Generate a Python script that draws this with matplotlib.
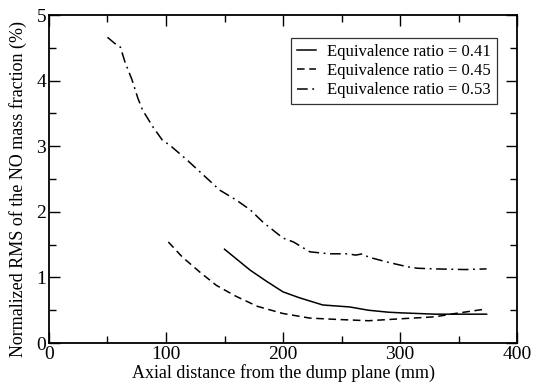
import matplotlib
matplotlib.use("Agg")
import matplotlib.pyplot as plt
from matplotlib.ticker import MultipleLocator

plt.rcParams['font.family'] = ['Liberation Serif', 'DejaVu Serif']

# equivalence ratio 0.41
x41 = [150, 172, 186, 200, 214, 234, 257, 273, 290, 301, 330, 374]
y41 = [1.43, 1.11, 0.94, 0.78, 0.69, 0.58, 0.55, 0.50, 0.47, 0.46, 0.44, 0.44]
# equivalence ratio 0.45
x45 = [102, 114, 129, 143, 159, 178, 200, 223, 246, 273, 301, 330, 347, 374]
y45 = [1.54, 1.31, 1.08, 0.88, 0.72, 0.56, 0.45, 0.38, 0.36, 0.34, 0.37, 0.40, 0.45, 0.52]
# equivalence ratio 0.53
x53 = [50, 56, 61, 65, 71, 76, 80, 89, 97, 103, 118, 132, 146, 160, 172, 183,
       200, 209, 223, 240, 256, 262, 268, 273, 290, 307, 315, 330, 356, 374]
y53 = [4.66, 4.57, 4.51, 4.28, 4.01, 3.73, 3.55, 3.29, 3.09, 3.02, 2.79, 2.56, 2.33, 2.18, 2.03, 1.84,
       1.60, 1.54, 1.39, 1.36, 1.36, 1.34, 1.36, 1.31, 1.23, 1.16, 1.14, 1.13, 1.12, 1.13]

fig = plt.figure(figsize=(5.36, 3.82), dpi=100)
ax = fig.add_axes([0.0914, 0.102, 0.8732, 0.8587])

ax.plot(x41, y41, color='black', lw=1.1, ls='-', label='Equivalence ratio = 0.41')
ax.plot(x45, y45, color='black', lw=1.1, ls=(0, (5, 3)), label='Equivalence ratio = 0.45')
ax.plot(x53, y53, color='black', lw=1.1, ls=(0, (7, 3, 1.2, 3)), label='Equivalence ratio = 0.53')

ax.set_xlim(0, 400)
ax.set_ylim(0, 5)
ax.xaxis.set_major_locator(MultipleLocator(100))
ax.xaxis.set_minor_locator(MultipleLocator(50))
ax.yaxis.set_major_locator(MultipleLocator(1))
ax.yaxis.set_minor_locator(MultipleLocator(0.5))
ax.tick_params(which='both', direction='in', top=True, right=True, labelsize=14, width=1)
ax.tick_params(which='major', length=8, pad=2)
ax.tick_params(which='minor', length=5)
for s in ax.spines.values():
    s.set_linewidth(1.3)

ax.set_xlabel('Axial distance from the dump plane (mm)', fontsize=13)
ax.set_ylabel('Normalized RMS of the NO mass fraction (%)', fontsize=13)
ax.xaxis.set_label_coords(0.5, -0.064, transform=ax.transAxes)
ax.yaxis.set_label_coords(-0.047, 0.47, transform=ax.transAxes)

leg = ax.legend(loc='upper right', bbox_to_anchor=(0.957, 0.93), fontsize=12, frameon=True,
                fancybox=False, edgecolor='black', handlelength=1.1, borderpad=0.35,
                labelspacing=0.2, handletextpad=0.7, borderaxespad=0)
leg.get_frame().set_linewidth(0.9)

fig.savefig('out.png', dpi=100)
